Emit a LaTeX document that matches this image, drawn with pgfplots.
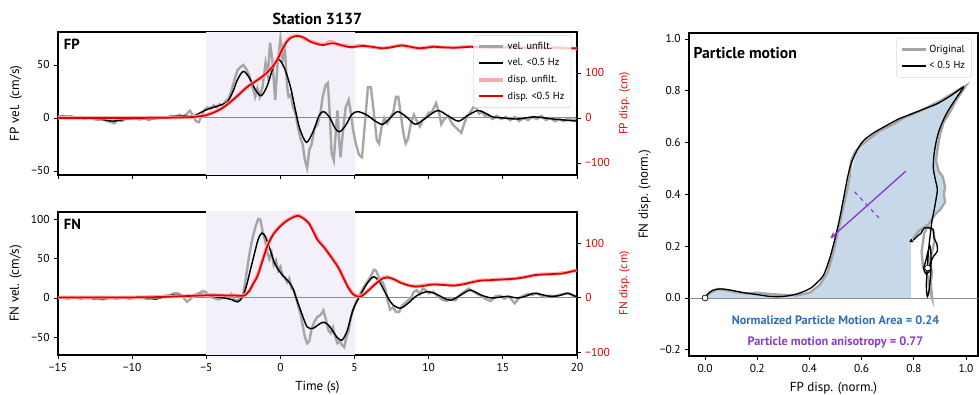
\documentclass[border=0pt]{standalone}
\usepackage{pgfplots}
\pgfplotsset{compat=1.18}
\usepackage{fontspec}
\setmainfont{PT Sans}
\usetikzlibrary{arrows.meta}
\definecolor{velgray}{HTML}{A6A6A6}
\definecolor{dispred}{HTML}{E00000}
\definecolor{disppink}{HTML}{F9ABAB}
\definecolor{lav}{HTML}{F3F0FA}
\definecolor{pmfill}{HTML}{C7D8E9}
\definecolor{pmblue}{HTML}{2F6EB5}
\definecolor{pmpurple}{HTML}{8A3BC9}
\definecolor{zerogray}{HTML}{8C8C8C}
\pgfplotsset{
  base/.style={scale only axis, anchor=south west,
    font=\fontsize{8.6}{10}\selectfont,
    label style={font=\fontsize{9.8}{11}\selectfont},
    tick align=outside, major tick length=2.8pt,
    axis line style={line width=0.9pt},
    every tick/.style={black, line width=0.6pt},
    clip=true},
  leftts/.style={base, width=389.25pt, height=107.25pt, xmin=-15, xmax=20,
    xtick={-15,-10,-5,0,5,10,15,20}, xtick pos=left},
  lgd/.style={font=\fontsize{7.7}{9}\selectfont,
    draw=black!15, fill=white, fill opacity=0.8, text opacity=1, draw opacity=1, rounded corners=2pt,
    inner xsep=3pt, inner ysep=3pt, row sep=1.5pt},
  lgdimg/.style={legend image code/.code={\draw[##1, draw opacity=1] (0pt,0pt) -- (18pt,0pt);}},
}
\begin{document}
\begin{tikzpicture}
\useasboundingbox (0,0) rectangle (734.25pt,296.25pt);
% ---------------- TOP (FP) ----------------
\begin{axis}[leftts, at={(43.5pt,165pt)}, ymin=-53.8, ymax=81.1,
  xticklabels={}, ytick={-50,0,50}, yticklabels={−50,0,50}, ytick pos=left,
  ylabel={FP vel. (cm/s)}, title={\bfseries\fontsize{12}{13}\selectfont Station 3137},
  title style={yshift=-4pt}]
\addplot[fill=lav, draw=none, forget plot] coordinates {(-5,-60) (5,-60) (5,90) (-5,90)} -- cycle;
\addplot[zerogray, line width=0.7pt, forget plot] coordinates {(-15,0) (20,0)};
\addplot[velgray, line width=1.8pt] coordinates {
(-15,1) (-14.7,2) (-14.4,0) (-14.1,1.5) (-13.8,0) (-13.5,1) (-13.2,-1) (-12.9,0.5) (-12.6,-1) (-12.3,-2)
(-12.0,-1) (-11.7,-3) (-11.4,-4) (-11.2,-5) (-11.0,-2) (-10.7,-3) (-10.4,0) (-10.1,-1) (-9.8,0) (-9.5,-1.5)
(-9.2,0) (-8.9,-2) (-8.6,-0.5) (-8.3,0) (-8.0,1) (-7.7,0) (-7.4,2) (-7.1,1) (-6.8,3) (-6.6,1) (-6.3,4)
(-6.1,7) (-5.9,2) (-5.7,-3) (-5.5,-4) (-5.3,3) (-5.1,8) (-4.9,10) (-4.7,9) (-4.5,12) (-4.3,10) (-4.1,13)
(-3.9,11) (-3.7,16) (-3.5,18) (-3.3,26) (-3.1,36) (-2.9,45) (-2.7,48) (-2.5,50) (-2.3,46) (-2.1,40)
(-1.9,30) (-1.7,20) (-1.55,28) (-1.4,20) (-1.2,30) (-1.0,52) (-0.85,40) (-0.7,71) (-0.55,55) (-0.35,17)
(-0.2,50) (0.0,75) (0.15,55) (0.3,65) (0.45,30) (0.55,20) (0.7,22) (0.85,10) (1.0,5) (1.2,-10)
(1.35,-19) (1.5,-25) (1.65,-40) (1.8,-47) (1.95,-30) (2.1,-25) (2.3,-10) (2.5,-6) (2.7,5) (2.85,20)
(3.05,31) (3.2,33) (3.3,10) (3.45,-33) (3.6,-40) (3.75,-10) (3.85,7) (3.95,-20) (4.05,-37) (4.2,-15)
(4.4,10) (4.6,17) (4.75,5) (4.9,-11) (5.1,-25) (5.3,-35) (5.5,-37) (5.7,-5) (5.9,29) (6.1,29) (6.3,5)
(6.5,-21) (6.65,-24) (6.8,-10) (7.0,0) (7.2,-5) (7.4,0) (7.6,5) (7.8,20) (7.95,20) (8.1,5) (8.3,-15)
(8.45,-24) (8.6,-20) (8.8,-5) (9.0,3) (9.2,-3) (9.4,-8) (9.6,-2) (9.8,0) (10.0,5) (10.2,5) (10.5,14)
(10.7,5) (10.85,-6) (11.0,-2) (11.3,2) (11.6,-6) (11.9,-10) (12.2,-14) (12.4,-5) (12.6,2) (12.8,5)
(13.0,10) (13.2,10) (13.4,4) (13.6,6) (13.8,2) (14.0,3) (14.3,-1) (14.6,2) (14.9,-1) (15.2,1) (15.5,-2)
(15.8,1) (16.1,-3) (16.4,0) (16.7,-2) (17.0,1) (17.3,-1) (17.6,2) (17.9,-2) (18.2,0) (18.5,-3) (18.8,-1)
(19.1,-3) (19.4,0) (19.7,-2) (20.0,-1)};
\addplot[black, line width=1.1pt, smooth] coordinates {
(-15,1) (-14.4,1.5) (-13.6,0.8) (-12.8,0) (-12.0,-1.5) (-11.3,-3) (-10.8,-2) (-10.3,-1) (-9.5,-0.5)
(-8.8,-1) (-8.0,0) (-7.2,1.5) (-6.5,2) (-5.9,1.5) (-5.4,5) (-4.95,8) (-4.3,11) (-3.6,15) (-3.2,25)
(-2.9,36) (-2.5,44) (-2.1,38) (-1.7,27) (-1.3,21) (-0.9,30) (-0.5,47) (-0.1,55) (0.3,46) (0.7,28)
(1.0,8) (1.3,-10) (1.75,-23) (2.2,-13) (2.6,2) (2.9,6) (3.3,1) (3.7,-10) (4.0,-13) (4.4,-7) (4.8,3)
(5.2,6) (5.8,3) (6.4,-3) (6.9,-6) (7.4,0) (7.9,6) (8.5,1) (9.1,-6) (9.8,0) (10.6,7) (11.3,2) (12.0,-3)
(12.6,2) (13.3,7) (13.9,4) (14.3,1) (15.0,0) (16.0,-1) (17.1,1) (18.4,-1) (19.2,-2) (20.0,-3)};
\node[anchor=north west, font=\bfseries\fontsize{11}{12}\selectfont, inner sep=0pt] at (rel axis cs:0.011,0.955) {FP};
\end{axis}
\begin{axis}[leftts, at={(43.5pt,165pt)}, ymin=-126.7, ymax=191,
  axis x line=none, axis y line*=right, ytick={-100,0,100}, yticklabels={−100,0,100},
  yticklabel style={text=dispred}, ylabel={\textcolor{dispred}{FP disp. (cm)}},
  ylabel near ticks, lgdimg,
  legend style={lgd, at={(0.989,0.979)}, anchor=north east},
  legend cell align=left]
\addlegendimage{velgray, line width=1.8pt}
\addlegendimage{black, line width=1.2pt}
\addlegendimage{disppink, line width=2.6pt}
\addlegendimage{dispred, line width=1.4pt}
\addplot[disppink, line width=2.6pt, smooth, forget plot] coordinates {
(-15,0) (-10,0) (-8,0.5) (-7,1) (-6,2) (-5.5,4) (-5,7) (-4.5,13) (-4,21) (-3.5,33) (-3,46) (-2.7,56)
(-2.2,70) (-1.55,85) (-1,97) (-0.55,114) (-0.2,131) (0.1,152) (0.4,170) (0.7,180) (1.1,183) (1.5,178)
(2.0,171) (2.3,168) (2.6,165) (2.9,163) (3.2,168) (3.5,169) (3.8,164) (4.1,161) (4.5,161) (4.8,157)
(5.2,161) (5.6,161) (6.0,158) (6.4,157) (6.8,155) (7.3,157) (7.8,160) (8.2,162) (8.6,158) (9.0,156)
(9.3,155) (9.8,156) (10.3,159) (10.8,157) (11.3,157) (11.7,156) (12.3,158) (12.8,159) (13.5,157)
(14.5,157) (15.5,158) (16.5,157) (17.5,157) (18.5,156) (19.3,155) (20,154)};
\addplot[dispred, line width=1.3pt, smooth, forget plot] coordinates {
(-15,0) (-12,0) (-10,0) (-8,0.5) (-7,1) (-6,2) (-5.5,3.5) (-5,6) (-4.5,12) (-4,20) (-3.5,32) (-3,46)
(-2.7,55) (-2.2,70) (-1.55,84) (-1,98) (-0.55,113) (-0.2,130) (0.1,151) (0.4,168) (0.7,178) (1.1,182)
(1.5,180) (2.0,170) (2.5,164) (2.9,162) (3.3,165) (3.6,166) (4.0,163) (4.5,158) (5.0,158) (5.6,160)
(6.2,158) (6.8,155) (7.3,156) (8.2,161) (8.8,158) (9.3,155) (9.8,156) (10.3,158) (11.0,157) (11.7,156)
(12.3,157) (12.8,158) (13.5,157) (14.5,156) (15.5,157) (16.5,156) (17.5,156) (18.5,156) (19.3,155) (20,155)};
\legend{vel. unfilt., vel. <0.5 Hz, disp. unfilt., disp. <0.5 Hz}
\end{axis}
% ---------------- BOTTOM (FN) ----------------
\begin{axis}[leftts, at={(43.5pt,30pt)}, ymin=-73, ymax=110,
  xticklabels={−15,−10,−5,0,5,10,15,20}, xlabel={Time (s)},
  ytick={-50,0,50,100}, yticklabels={−50,0,50,100}, ytick pos=left,
  ylabel={FN vel. (cm/s)}]
\addplot[fill=lav, draw=none, forget plot] coordinates {(-5,-80) (5,-80) (5,120) (-5,120)} -- cycle;
\addplot[zerogray, line width=0.7pt, forget plot] coordinates {(-15,0) (20,0)};
\addplot[velgray, line width=1.8pt] coordinates {
(-15,0) (-14.7,1) (-14.4,-1) (-14.1,0) (-13.8,1) (-13.5,-1) (-13.2,0) (-12.9,1) (-12.6,-1) (-12.3,0)
(-12.0,-2) (-11.7,0) (-11.4,1) (-11.1,-1) (-10.8,0) (-10.5,1) (-10.2,-1) (-9.9,0) (-9.6,1) (-9.3,0)
(-9.0,-1) (-8.7,0) (-8.4,-1) (-8.1,1) (-7.8,3) (-7.5,3) (-7.2,6) (-6.9,6) (-6.6,2) (-6.3,-5) (-6.1,-2)
(-5.8,4) (-5.5,6) (-5.2,9) (-5.0,7) (-4.8,2) (-4.5,0) (-4.2,-2) (-3.9,0) (-3.7,3) (-3.5,0) (-3.3,5)
(-3.1,-3) (-2.9,-3) (-2.7,-1) (-2.5,5) (-2.3,30) (-2.1,55) (-1.9,75) (-1.7,90) (-1.5,101) (-1.35,100)
(-1.2,85) (-1.05,75) (-0.9,60) (-0.75,50) (-0.6,58) (-0.45,42) (-0.3,48) (-0.15,35) (0,40) (0.15,28)
(0.3,26) (0.45,20) (0.6,25) (0.75,12) (0.9,10) (1.05,0) (1.2,-10) (1.35,-20) (1.5,-35) (1.65,-50)
(1.8,-58) (1.95,-55) (2.1,-40) (2.3,-30) (2.5,-24) (2.7,-22) (2.9,-16) (3.1,-30) (3.25,-42) (3.4,-45)
(3.55,-38) (3.7,-50) (3.85,-58) (4.0,-55) (4.15,-60) (4.3,-63) (4.45,-50) (4.6,-42) (4.75,-25)
(4.9,-15) (5.1,-5) (5.4,6) (5.65,15) (5.9,22) (6.1,28) (6.3,36) (6.45,35) (6.6,28) (6.75,22) (6.9,20)
(7.1,10) (7.25,-5) (7.4,-15) (7.6,-12) (7.8,-18) (8.0,-18) (8.2,-10) (8.5,-5) (8.8,0) (9.0,8) (9.2,10)
(9.4,5) (9.6,12) (9.8,10) (10.0,6) (10.3,8) (10.6,2) (10.9,-2) (11.2,-4) (11.5,0) (11.8,-3) (12.1,4)
(12.4,8) (12.7,12) (13.0,8) (13.3,5) (13.6,2) (13.9,-2) (14.2,-4) (14.5,2) (14.8,3) (15.1,-1) (15.4,2)
(15.8,-7) (16.1,0) (16.4,3) (16.7,5) (17.0,4) (17.3,6) (17.6,3) (17.9,1) (18.2,3) (18.5,2) (18.8,4)
(19.1,5) (19.4,6) (19.7,3) (20,2)};
\addplot[black, line width=1.1pt, smooth] coordinates {
(-15,0) (-14,0) (-13,-0.5) (-12,-1) (-11,0) (-10,0) (-9,-0.5) (-8.3,-1) (-7.6,3) (-7.0,4) (-6.5,3)
(-6.1,2) (-5.6,4) (-5.2,5) (-4.7,3) (-4.3,1) (-3.8,0) (-3.3,-2) (-2.9,-5) (-2.6,0) (-2.3,15) (-2.0,38)
(-1.8,53) (-1.5,75) (-1.25,83) (-1.0,78) (-0.7,62) (-0.4,45) (-0.1,35) (0.2,28) (0.5,22) (0.8,14)
(1.1,-2) (1.4,-18) (1.8,-37) (2.2,-39) (2.5,-35) (2.9,-31) (3.3,-36) (3.8,-50) (4.15,-54) (4.5,-42)
(4.9,-15) (5.4,4) (5.9,20) (6.3,27) (6.7,20) (7.2,2) (7.6,-9) (8.1,-13) (8.6,-7) (9.2,3) (9.9,8)
(10.5,5) (11.0,0) (11.5,-3) (12.1,3) (12.8,10) (13.5,4) (14.2,0) (14.8,1) (15.3,2) (16.0,0) (16.5,2)
(17.1,6) (17.7,4) (18.2,2) (18.8,3) (19.4,6) (20,1)};
\node[anchor=north west, font=\bfseries\fontsize{11}{12}\selectfont, inner sep=0pt] at (rel axis cs:0.011,0.955) {FN};
\end{axis}
\begin{axis}[leftts, at={(43.5pt,30pt)}, ymin=-105.5, ymax=157,
  axis x line=none, axis y line*=right, ytick={-100,0,100}, yticklabels={−100,0,100},
  yticklabel style={text=dispred}, ylabel={\textcolor{dispred}{FN disp. (cm)}},
  ylabel near ticks]
\addplot[disppink, line width=2.6pt, smooth] coordinates {
(-15,0) (-13,0.5) (-11,0) (-9,1) (-8,1.5) (-7,2.5) (-6,3) (-5,5) (-4,4) (-3,4) (-2.6,3) (-2.4,5)
(-2.1,13) (-1.8,28) (-1.55,41) (-1.2,70) (-0.9,94) (-0.5,116) (0,132) (0.5,143) (1.0,150) (1.2,151)
(1.5,147) (1.9,137) (2.2,124) (2.5,108) (3.0,91) (3.4,76) (3.9,56) (4.3,34) (4.6,18) (4.9,7) (5.2,2)
(5.5,4) (5.9,13) (6.5,28) (6.9,36) (7.2,38) (7.7,33) (8.1,28) (8.7,22) (9.2,21) (9.8,23) (10.3,24)
(11.0,24) (11.7,22) (12.3,25) (12.9,28) (13.5,32) (14.2,32) (14.9,34) (15.5,34) (16.0,36) (16.6,38)
(17.1,41) (17.6,43) (18.2,43) (19.0,45) (19.5,47) (20,50)};
\addplot[dispred, line width=1.3pt, smooth] coordinates {
(-15,0) (-13,0) (-11,0) (-9,0.5) (-8,1) (-7,2) (-6,3) (-5,4) (-4,4) (-3,3.5) (-2.6,3) (-2.4,4)
(-2.1,12) (-1.8,27) (-1.55,39) (-1.2,68) (-0.9,93) (-0.5,115) (0,131) (0.5,142) (1.0,149) (1.2,150)
(1.5,146) (1.9,137) (2.2,122) (2.5,106) (3.0,90) (3.4,75) (3.9,55) (4.3,33) (4.6,17) (4.9,6) (5.2,2)
(5.5,3) (5.9,12) (6.5,27) (6.9,35) (7.2,37) (7.7,33) (8.1,27) (8.7,22) (9.2,20) (9.8,22) (10.3,24)
(11.0,23) (11.7,22) (12.3,24) (12.9,28) (13.5,31) (14.2,32) (14.9,33) (15.5,34) (16.0,35) (16.6,38)
(17.1,41) (17.6,42) (18.2,43) (19.0,44) (19.5,47) (20,50)};
\end{axis}
% ---------------- PARTICLE MOTION ----------------
\begin{axis}[base, at={(516.75pt,29.25pt)}, width=216.75pt, height=242.25pt,
  xmin=-0.0615, xmax=1.046, ymin=-0.224, ymax=1.023,
  xtick={0,0.2,0.4,0.6,0.8,1.0}, xticklabels={0.0,0.2,0.4,0.6,0.8,1.0},
  ytick={-0.2,0,0.2,0.4,0.6,0.8,1.0}, yticklabels={−0.2,0.0,0.2,0.4,0.6,0.8,1.0},
  xtick pos=left, ytick pos=left,
  xlabel={FP disp. (norm.)}, ylabel={FN disp. (norm.)}, lgdimg,
  legend style={lgd, at={(0.979,0.985)}, anchor=north east},
  legend cell align=left]
\addplot[pmfill, fill=pmfill, draw=none, forget plot] coordinates {
(0,0) (0.02,0.02) (0.05,0.035) (0.08,0.03) (0.12,0.022) (0.16,0.018) (0.2,0.02) (0.25,0.015) (0.3,0.012)
(0.35,0.01) (0.4,0.02) (0.44,0.05) (0.47,0.1) (0.49,0.17) (0.51,0.26) (0.53,0.35) (0.545,0.42) (0.56,0.47)
(0.57,0.53) (0.58,0.56) (0.6,0.58) (0.63,0.61) (0.67,0.645) (0.72,0.67) (0.77,0.7) (0.82,0.72) (0.86,0.74)
(0.9,0.76) (0.95,0.79) (1.0,0.82) (0.98,0.79) (0.96,0.76) (0.94,0.72) (0.915,0.68) (0.9,0.63) (0.89,0.57)
(0.885,0.53) (0.895,0.49) (0.91,0.47) (0.92,0.43) (0.915,0.4) (0.92,0.37) (0.9,0.34) (0.88,0.32)
(0.86,0.29) (0.83,0.26) (0.79,0.22) (0.79,0)} -- cycle;
\addplot[zerogray, line width=0.7pt, forget plot] coordinates {(-0.1,0) (1.1,0)};
\addplot[velgray, line width=1.8pt] coordinates {
(0,0) (0.02,0.02) (0.05,0.035) (0.08,0.03) (0.12,0.022) (0.16,0.018) (0.2,0.02) (0.25,0.015) (0.3,0.012)
(0.35,0.01) (0.4,0.02) (0.44,0.05) (0.47,0.1) (0.49,0.17) (0.51,0.26) (0.53,0.35) (0.545,0.42) (0.555,0.47)
(0.56,0.53) (0.575,0.565) (0.6,0.59) (0.63,0.615) (0.67,0.645) (0.72,0.67) (0.77,0.7) (0.82,0.72) (0.86,0.74)
(0.9,0.76) (0.95,0.79) (1.0,0.82) (0.98,0.79) (0.96,0.76) (0.94,0.72) (0.915,0.68) (0.9,0.63) (0.89,0.57)
(0.885,0.53) (0.895,0.49) (0.91,0.47) (0.92,0.43) (0.915,0.4) (0.92,0.37) (0.9,0.34) (0.88,0.32)
(0.86,0.29) (0.84,0.25) (0.83,0.18) (0.835,0.12) (0.855,0.08) (0.86,0.03) (0.87,0.0) (0.865,0.06)
(0.87,0.1) (0.86,0.14) (0.87,0.18) (0.88,0.22) (0.875,0.26) (0.85,0.28) (0.82,0.26) (0.79,0.22)};
\addlegendentry{Original}
\addplot[black, line width=1.0pt, smooth] coordinates {
(0,0) (0.01,0.015) (0.03,0.03) (0.06,0.035) (0.1,0.03) (0.15,0.02) (0.2,0.013) (0.25,0.006) (0.3,0.006)
(0.35,0.015) (0.4,0.035) (0.43,0.06) (0.455,0.09) (0.48,0.16) (0.51,0.28) (0.53,0.38) (0.545,0.46)
(0.56,0.52) (0.585,0.575) (0.61,0.61) (0.65,0.64) (0.685,0.66) (0.74,0.69) (0.79,0.71) (0.84,0.73)
(0.89,0.75) (0.94,0.78) (0.99,0.815) (0.975,0.79) (0.955,0.76) (0.93,0.72) (0.91,0.68) (0.895,0.64)
(0.885,0.6) (0.877,0.55) (0.875,0.5) (0.882,0.46) (0.89,0.42) (0.885,0.38) (0.878,0.34) (0.87,0.3)
(0.865,0.26) (0.858,0.2) (0.852,0.12) (0.848,0.05) (0.852,0.005) (0.86,0.04) (0.866,0.12) (0.865,0.18)
(0.86,0.2) (0.845,0.14) (0.838,0.115) (0.845,0.095) (0.858,0.1) (0.862,0.13) (0.875,0.16) (0.89,0.18)
(0.888,0.21) (0.878,0.23) (0.874,0.265) (0.86,0.27) (0.84,0.27) (0.828,0.25) (0.815,0.24) (0.8,0.225)
(0.79,0.22)};
\addlegendentry{< 0.5 Hz}
\addplot[pmpurple, line width=1.0pt, -{Stealth[length=5pt,width=4.5pt]}, forget plot] coordinates {(0.77,0.49) (0.48,0.23)};
\addplot[pmpurple, line width=0.8pt, dashed, forget plot] coordinates {(0.573,0.41) (0.67,0.305)};
\addplot[only marks, mark=*, mark size=2.2pt, mark options={fill=white, draw=black, line width=0.5pt}, forget plot] coordinates {(0,0) (0.853,0.116)};
\addplot[only marks, mark=triangle*, mark size=2.6pt, mark options={fill=black, draw=white, line width=0.4pt}, forget plot] coordinates {(0.79,0.22)};
\node[anchor=north west, font=\bfseries\fontsize{11.8}{13}\selectfont, inner sep=0pt] at (rel axis cs:0.015,0.955) {Particle motion};
\node[font=\bfseries\fontsize{9.2}{10}\selectfont, text=pmblue] at (axis cs:0.5,-0.085) {Normalized Particle Motion Area = 0.24};
\node[font=\bfseries\fontsize{9.2}{10}\selectfont, text=pmpurple] at (axis cs:0.5,-0.17) {Particle motion anisotropy = 0.77};
\end{axis}
\end{tikzpicture}
\end{document}
